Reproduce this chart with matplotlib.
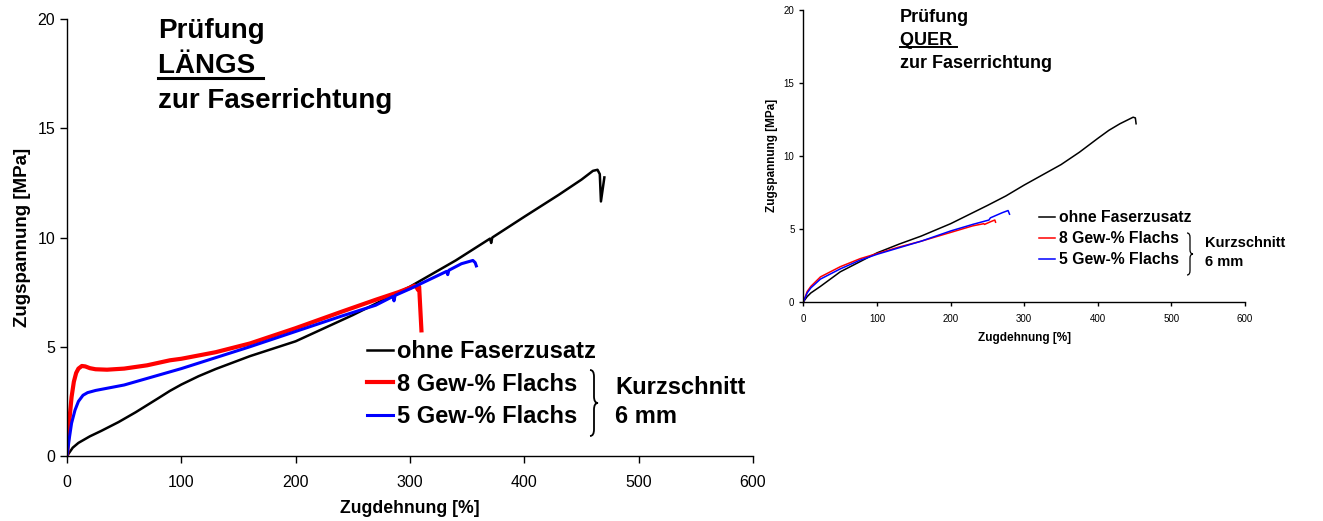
import matplotlib
matplotlib.use("Agg")
import matplotlib.pyplot as plt
from matplotlib.path import Path
from matplotlib.patches import PathPatch
from matplotlib.lines import Line2D

plt.rcParams['font.family'] = ['Liberation Sans', 'DejaVu Sans']

# --- Daten: Prüfung längs zur Faserrichtung ---
laengs_ohne_x = [0, 5, 10, 20, 30, 45, 60, 80, 90, 100, 115, 130, 160, 200, 250, 300, 340, 370,
                 371, 372, 400, 430, 450, 460, 464, 466, 467, 470]
laengs_ohne_y = [0, 0.38, 0.6, 0.9, 1.15, 1.55, 2.0, 2.65, 2.98, 3.27, 3.65, 3.98, 4.57, 5.25, 6.45,
                 7.75, 8.95, 9.95, 9.75, 10.0, 10.95, 11.95, 12.65, 13.05, 13.1, 12.9, 11.65, 12.75]
laengs_8_x = [0, 1, 2, 4, 6, 8, 10, 13, 16, 20, 25, 35, 50, 70, 90, 100, 130, 160, 200, 240, 270,
              290, 300, 304, 306, 307, 308, 310]
laengs_8_y = [0, 0.8, 1.6, 2.7, 3.4, 3.8, 4.0, 4.12, 4.1, 4.02, 3.97, 3.95, 4.0, 4.15, 4.38, 4.45,
              4.75, 5.15, 5.85, 6.6, 7.15, 7.5, 7.7, 7.8, 7.7, 7.6, 7.75, 5.75]
laengs_5_x = [0, 2, 4, 7, 10, 14, 18, 25, 35, 50, 70, 90, 100, 130, 160, 200, 240, 270, 285, 286,
              287, 300, 320, 332, 333, 334, 345, 355, 357, 358]
laengs_5_y = [0, 0.8, 1.5, 2.1, 2.5, 2.78, 2.9, 3.0, 3.1, 3.25, 3.55, 3.85, 4.0, 4.5, 5.0, 5.7, 6.4,
              6.9, 7.3, 7.1, 7.35, 7.65, 8.15, 8.45, 8.3, 8.5, 8.8, 8.95, 8.85, 8.7]

# --- Daten: Prüfung quer zur Faserrichtung ---
quer_ohne_x = [0, 5, 10, 23, 50, 77, 100, 130, 160, 200, 250, 275, 300, 325, 350, 375, 400, 415,
               430, 440, 448, 451, 452]
quer_ohne_y = [0, 0.35, 0.6, 1.05, 2.05, 2.75, 3.35, 3.95, 4.5, 5.35, 6.6, 7.25, 8.0, 8.7, 9.4,
               10.25, 11.2, 11.75, 12.2, 12.45, 12.65, 12.6, 12.2]
quer_8_x = [0, 5, 10, 23, 50, 77, 100, 130, 160, 200, 230, 245, 246, 255, 260, 261]
quer_8_y = [0, 0.7, 1.05, 1.7, 2.4, 2.95, 3.3, 3.75, 4.15, 4.75, 5.2, 5.35, 5.3, 5.5, 5.6, 5.45]
quer_5_x = [0, 5, 10, 23, 50, 77, 100, 130, 160, 200, 230, 252, 254, 270, 278, 280]
quer_5_y = [0, 0.6, 0.95, 1.55, 2.25, 2.85, 3.25, 3.7, 4.15, 4.85, 5.3, 5.6, 5.75, 6.1, 6.25, 6.0]

labels = ['ohne Faserzusatz', '8 Gew-% Flachs', '5 Gew-% Flachs']
xticks = [0, 100, 200, 300, 400, 500, 600]
yticks = [0, 5, 10, 15, 20]

W, H = 1323, 521
fig = plt.figure(figsize=(W / 100, H / 100), dpi=100)


def px_axes(x0, y0, x1, y1):
    # Pixelrahmen (oben links Ursprung) -> Achse
    return fig.add_axes([x0 / W, 1 - y1 / H, (x1 - x0) / W, (y1 - y0) / H])


def brace(ax, x, y0, y1, w, lw):
    ym = (y0 + y1) / 2
    c = (y1 - y0) * 0.1
    xm = x + w / 2
    verts = [(x, y1), (xm, y1), (xm, y1 - c), (xm, ym + c), (xm, ym), (x + w, ym),
             (xm, ym), (xm, ym - c), (xm, y0 + c), (xm, y0), (x, y0)]
    codes = [Path.MOVETO, Path.CURVE3, Path.CURVE3, Path.LINETO, Path.CURVE3, Path.CURVE3,
             Path.CURVE3, Path.CURVE3, Path.LINETO, Path.CURVE3, Path.CURVE3]
    ax.add_patch(PathPatch(Path(verts, codes), transform=ax.transAxes, fill=False,
                           lw=lw, edgecolor='black', clip_on=False))


def style_axes(ax, tick_size, label_sizes, tick_len, xpad, ylab_x, xlab_y):
    ax.set_xlim(0, 600)
    ax.set_ylim(0, 20)
    ax.set_xticks(xticks)
    ax.set_yticks(yticks)
    for s in ['top', 'right']:
        ax.spines[s].set_visible(False)
    for s in ['left', 'bottom']:
        ax.spines[s].set_linewidth(1.0)
    ax.tick_params(labelsize=tick_size, length=tick_len, width=1.0, direction='out')
    ax.tick_params(axis='x', pad=xpad)
    ax.set_xlabel('Zugdehnung [%]', fontsize=label_sizes[0], fontweight='bold')
    ax.set_ylabel('Zugspannung [MPa]', fontsize=label_sizes[1], fontweight='bold')
    ax.yaxis.set_label_coords(ylab_x, 0.5)
    ax.xaxis.set_label_coords(0.5, xlab_y)


def title_block(x, y0, dy, size, mid):
    fig.text(x / W, 1 - y0 / H, 'Prüfung', fontsize=size, fontweight='bold', va='baseline')
    t = fig.text(x / W, 1 - (y0 + dy) / H, mid, fontsize=size, fontweight='bold', va='baseline')
    fig.text(x / W, 1 - (y0 + 2 * dy) / H, 'zur Faserrichtung', fontsize=size, fontweight='bold',
             va='baseline')
    return t


# ---------- links ----------
ax1 = px_axes(67, 19, 753, 456)
ax1.plot(laengs_ohne_x, laengs_ohne_y, color='black', lw=1.8)
ax1.plot(laengs_8_x, laengs_8_y, color='red', lw=3.0)
ax1.plot(laengs_5_x, laengs_5_y, color='blue', lw=2.2)
style_axes(ax1, 11.5, (12.7, 13.5), 5, 8.5, (31 - 67) / 686, (456 - 500) / 437)
ax1.legend(labels, loc='upper left', bbox_to_anchor=(367 / W, 1 - 340.5 / H),
           bbox_transform=fig.transFigure, frameon=False,
           prop={'weight': 'bold', 'size': 17}, handlelength=1.1, handletextpad=0.17,
           labelspacing=0.39, borderpad=0, borderaxespad=0)
brace(ax1, (590 - 67) / 686, (456 - 436) / 437, (456 - 370) / 437, 8 / 686, 1.3)
fig.text(615 / W, 1 - 394 / H, 'Kurzschnitt', fontsize=17, fontweight='bold', va='baseline')
fig.text(615 / W, 1 - 423 / H, '6 mm', fontsize=17, fontweight='bold', va='baseline')
t1 = title_block(158, 38, 35, 20, 'LÄNGS ')

# ---------- rechts ----------
ax2 = px_axes(803.5, 10, 1245, 301.7)
ax2.plot(quer_ohne_x, quer_ohne_y, color='black', lw=1.1)
ax2.plot(quer_8_x, quer_8_y, color='red', lw=1.1)
ax2.plot(quer_5_x, quer_5_y, color='blue', lw=1.1)
style_axes(ax2, 7, (8.5, 8.5), 3, 6, (778 - 803.5) / 441.5, (301.7 - 331.7) / 291.7)
ax2.legend(labels, loc='upper left', bbox_to_anchor=(1039 / W, 1 - 210.5 / H),
           bbox_transform=fig.transFigure, frameon=False,
           prop={'weight': 'bold', 'size': 11.3}, handlelength=1.02, handletextpad=0.25,
           labelspacing=0.38, borderpad=0, borderaxespad=0)
brace(ax2, (1187 - 803.5) / 441.5, (301.7 - 275) / 291.7, (301.7 - 233) / 291.7, 6 / 441.5, 0.9)
fig.text(1205 / W, 1 - 247 / H, 'Kurzschnitt', fontsize=10.5, fontweight='bold', va='baseline')
fig.text(1205 / W, 1 - 266 / H, '6 mm', fontsize=10.5, fontweight='bold', va='baseline')
t2 = title_block(900, 22, 23, 13, 'QUER ')

# Unterstreichung der Richtungsangabe
fig.canvas.draw()
r = fig.canvas.get_renderer()
for t, off, lw in [(t1, 4.5, 2.2), (t2, 2, 1.4)]:
    bb = t.get_window_extent(r)
    x0, y = t.get_position()
    fig.add_artist(Line2D([bb.x0 / W, bb.x1 / W], [y - off / H, y - off / H],
                          transform=fig.transFigure, color='black', lw=lw))

fig.savefig('out.png', dpi=100)
